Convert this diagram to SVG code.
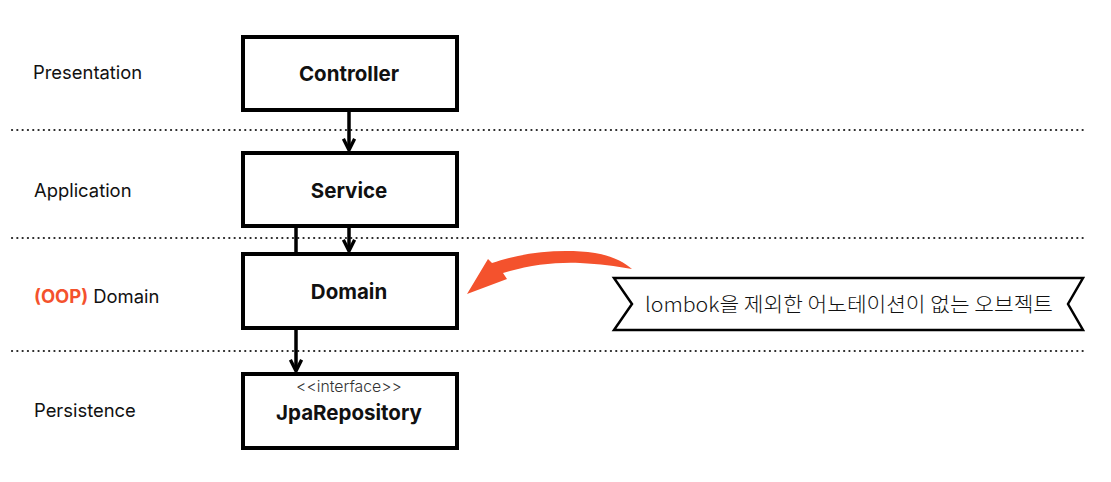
<svg xmlns="http://www.w3.org/2000/svg" width="1111" height="482" viewBox="0 0 1111 482">
<style>
.box{fill:#fff;stroke:#000;stroke-width:4}
.sep{stroke:#222;stroke-width:2.2;stroke-dasharray:0.1 5.2;stroke-linecap:round}
.lbl{font-family:Inter,"Noto Sans",sans-serif;font-size:18.4px;fill:#111}
.name{font-family:Inter,"Noto Sans",sans-serif;font-size:20.5px;font-weight:700;fill:#111;text-anchor:middle}
.conn{stroke:#000;stroke-width:3.5;fill:none}
</style>
<defs>
<marker id="ah" viewBox="0 0 10 10" refX="9" refY="5" markerWidth="4" markerHeight="4" markerUnits="strokeWidth" orient="auto">
<path d="M1,1 L9,5 L1,9" fill="none" stroke="#000" stroke-width="2.4"/>
</marker>
</defs>
<rect width="1111" height="482" fill="#fff"/>
<g id="separators">
<line class="sep" x1="12" y1="130" x2="1086" y2="130"/>
<line class="sep" x1="12" y1="238" x2="1086" y2="238"/>
<line class="sep" x1="12" y1="351" x2="1086" y2="351"/>
</g>
<g id="layer-labels">
<text class="lbl" x="33" y="79">Presentation</text>
<text class="lbl" x="34" y="197">Application</text>
<text class="lbl" x="34" y="303"><tspan fill="#F4522D" font-weight="700">(OOP)</tspan> Domain</text>
<text class="lbl" x="34" y="417">Persistence</text>
</g>
<g id="connectors">
<line class="conn" x1="349" y1="111" x2="349" y2="150" marker-end="url(#ah)"/>
<line class="conn" x1="349" y1="227" x2="349" y2="251" marker-end="url(#ah)"/>
<line class="conn" x1="296" y1="227" x2="296" y2="371" marker-end="url(#ah)"/>
</g>
<g id="controller">
<rect class="box" x="243" y="37" width="214" height="73"/>
<text class="name" x="349" y="81">Controller</text>
</g>
<g id="service">
<rect class="box" x="243" y="153" width="214" height="73"/>
<text class="name" x="349" y="198">Service</text>
</g>
<g id="domain">
<rect class="box" x="243" y="254" width="214" height="74"/>
<text class="name" x="349" y="299">Domain</text>
</g>
<g id="jparepository">
<rect class="box" x="243" y="374" width="214" height="74"/>
<text x="349" y="392" text-anchor="middle" font-family="Inter,'Noto Sans',sans-serif" font-size="15.8" font-weight="300" fill="#333">&lt;&lt;interface&gt;&gt;</text>
<text class="name" x="349" y="420">JpaRepository</text>
</g>
<g id="brush-arrow">
<path d="M467,294 L488,259 L492,263 C520,253 560,248 595,253 C612,256 624,262 632,269 C615,266 600,264 580,263 C555,262 530,265 503,273 L507,279 Z" fill="#F4522D"/>
</g>
<g id="note">
<polygon points="614,278 1083,278 1068,304 1083,330 614,330 632,304" fill="#fff" stroke="#000" stroke-width="2.5" stroke-linejoin="miter"/>
<text x="849" y="312" text-anchor="middle" font-family="'Noto Sans CJK KR',sans-serif" font-size="20" font-weight="300" fill="#111" textLength="408" lengthAdjust="spacingAndGlyphs">lombok을 제외한 어노테이션이 없는 오브젝트</text>
</g>
</svg>
